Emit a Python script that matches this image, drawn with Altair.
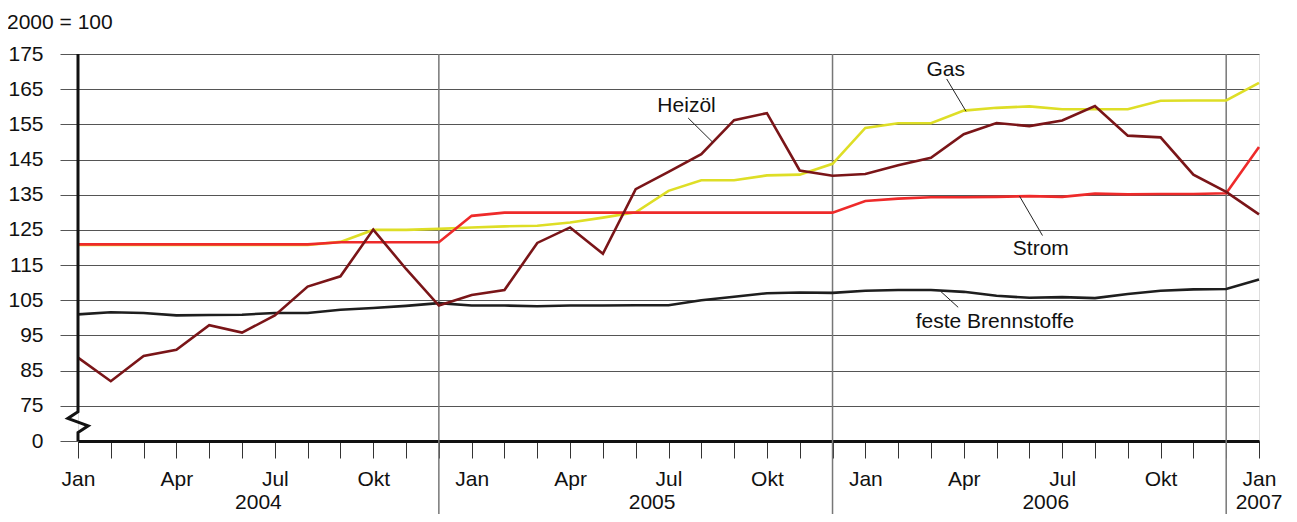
import altair as alt
import pandas as pd

# ---- data -------------------------------------------------------------
month_short = ["Jan", "", "", "Apr", "", "", "Jul", "", "", "Okt", "", ""]
years = [2004] * 12 + [2005] * 12 + [2006] * 12 + [2007]

heizoel = [88.7, 82.0, 89.2, 90.9, 97.9, 95.8, 100.7, 108.9, 111.8, 125.1, 113.9, 103.5,
           106.5, 107.9, 121.3, 125.7, 118.2, 136.6, 141.5, 146.5, 156.2, 158.2, 141.9, 140.4,
           140.9, 143.4, 145.5, 152.2, 155.4, 154.5, 156.1, 160.2, 151.8, 151.3, 140.7, 135.8,
           129.4]
gas = [120.7, 120.7, 120.7, 120.7, 120.7, 120.7, 120.7, 120.7, 121.6, 125.0, 125.0, 125.3,
       125.7, 126.0, 126.2, 127.1, 128.5, 130.0, 136.1, 139.1, 139.1, 140.5, 140.7, 143.8,
       154.0, 155.3, 155.3, 158.9, 159.7, 160.1, 159.3, 159.3, 159.3, 161.7, 161.8, 161.8,
       166.8]
strom = [120.9, 120.9, 120.9, 120.9, 120.9, 120.9, 120.9, 120.9, 121.5, 121.5, 121.5, 121.5,
         129.0, 129.9, 129.9, 129.9, 129.9, 129.9, 129.9, 129.9, 129.9, 129.9, 129.9, 129.9,
         133.2, 133.9, 134.3, 134.3, 134.4, 134.6, 134.4, 135.3, 135.1, 135.2, 135.2, 135.4,
         148.6]
feste = [101.0, 101.6, 101.4, 100.7, 100.8, 100.9, 101.4, 101.4, 102.3, 102.8, 103.4, 104.2,
         103.5, 103.5, 103.3, 103.5, 103.5, 103.6, 103.6, 105.0, 106.0, 107.0, 107.2, 107.1,
         107.7, 107.9, 107.9, 107.4, 106.3, 105.7, 105.9, 105.6, 106.8, 107.7, 108.1, 108.2,
         110.9]

series_names = ["feste Brennstoffe", "Gas", "Strom", "Heizöl"]
series_values = [feste, gas, strom, heizoel]
series_colors = ["#1e1e1e", "#dede26", "#ee2a2a", "#7a1518"]

y_ticks = [65, 75, 85, 95, 105, 115, 125, 135, 145, 155, 165, 175]

# annotation labels (text position and leader line, in data units)
ann_text = ["Heizöl", "Gas", "Strom", "feste Brennstoffe"]
ann_tx = [18.55, 26.45, 29.35, 27.95]
ann_ty = [160.2, 170.4, 119.6, 98.9]
ann_lx1 = [18.60, 26.48, 28.70, 26.30]
ann_ly1 = [156.8, 167.9, 134.6, 107.5]
ann_lx2 = [19.35, 27.07, 29.40, 26.83]
ann_ly2 = [149.9, 158.7, 123.4, 103.0]

# ---- tables ------------------------------------------------------------
FONT = "Liberation Sans"
FS = 21
n = len(years)
rows = []
for name, vals in zip(series_names, series_values):
    for i, v in enumerate(vals):
        rows.append({"i": i, "series": name, "value": v})
lines_df = pd.DataFrame(rows)

year_df = pd.DataFrame({"i": range(n), "year": years})
year_lab = year_df.groupby("year", as_index=False)["i"].mean()
year_lab["label"] = year_lab["year"].astype(str)
sep_df = year_df.groupby("year", as_index=False)["i"].max()
sep_df = sep_df[sep_df["i"] < n - 1]

ann_df = pd.DataFrame({"text": ann_text, "tx": ann_tx, "ty": ann_ty,
                       "x1": ann_lx1, "y1": ann_ly1, "x2": ann_lx2, "y2": ann_ly2})

# axis break (left axis line with zigzag)
brk_df = pd.DataFrame({"k": [0, 1, 2, 3, 4, 5],
                       "bx": [0, 0, -0.31, 0.31, 0, 0],
                       "by": [175, 73.3, 71.4, 69.3, 67.4, 65]})

W, H = 1181, 387

xscale = alt.Scale(domain=[0, n - 1], nice=False, zero=False)
yscale = alt.Scale(domain=[65, 175], nice=False, zero=False)

label_expr = "[" + ",".join("'%s'" % m for m in month_short) + "][datum.value % 12]"

x_axis = alt.Axis(values=list(range(n)), tickCount=100, labelExpr=label_expr, tickSize=17,
                  tickColor="#333333", tickWidth=1, domain=True, domainColor="#111111",
                  domainWidth=3, labelFontSize=FS, labelFont=FONT, labelColor="#111111",
                  labelPadding=10, grid=False, title=None, labelOverlap=False,
                  labelFlush=False)
y_axis = alt.Axis(values=y_ticks, tickCount=100,
                  labelExpr="datum.value == 65 ? '0' : datum.label",
                  grid=True, gridColor="#555555", gridWidth=1, tickSize=18,
                  tickColor="#555555", domain=False, labelPadding=17, labelFontSize=FS,
                  labelFont=FONT, labelColor="#111111", title=None, labelOverlap=False,
                  labelFlush=False)

base_x = alt.X("i:Q", scale=xscale, axis=x_axis)
base_y = alt.Y("value:Q", scale=yscale, axis=y_axis)

axes_holder = alt.Chart(lines_df).mark_point(opacity=0).encode(x=base_x, y=base_y)

seps = alt.Chart(sep_df).mark_rule(color="#777777", strokeWidth=1.5).encode(
    x=alt.X("i:Q", scale=xscale), y=alt.value(0), y2=alt.value(466))

# draw lines in a defined stacking order
line_layers = [
    alt.Chart(lines_df[lines_df["series"] == s]).mark_line(strokeWidth=2.6, color=c).encode(
        x=alt.X("i:Q", scale=xscale), y=alt.Y("value:Q", scale=yscale))
    for s, c in zip(series_names, series_colors)
]

axis_line = alt.Chart(brk_df).mark_line(color="#111111", strokeWidth=3).encode(
    x=alt.X("bx:Q", scale=xscale), y=alt.Y("by:Q", scale=yscale), order="k:Q")

year_text = alt.Chart(year_lab).mark_text(fontSize=FS, font=FONT, color="#111111",
                                          baseline="alphabetic", align="center").encode(
    x=alt.X("i:Q", scale=xscale), y=alt.value(455), text="label:N")

leaders = alt.Chart(ann_df).mark_rule(color="#222222", strokeWidth=1).encode(
    x=alt.X("x1:Q", scale=xscale), y=alt.Y("y1:Q", scale=yscale), x2="x2:Q", y2="y2:Q")

ann = alt.Chart(ann_df).mark_text(fontSize=FS, font=FONT, color="#111111",
                                  baseline="middle", align="center").encode(
    x=alt.X("tx:Q", scale=xscale), y=alt.Y("ty:Q", scale=yscale), text="text:N")

unit_text = alt.Chart(pd.DataFrame({"t": ["2000 = 100"]})).mark_text(
    fontSize=FS, font=FONT, color="#111111", align="left", baseline="alphabetic").encode(
    x=alt.value(-71), y=alt.value(-25), text="t:N")

chart = alt.layer(axes_holder, seps, *line_layers, axis_line, year_text, leaders, ann,
                  unit_text).properties(
    width=W, height=H,
    autosize=alt.AutoSizeParams(type="none"),
    padding={"left": 70, "top": 46, "right": 30, "bottom": 73},
).configure_view(stroke=None).configure(background="white")

chart.save("out.html", embed_options={"renderer": "svg", "actions": False})
